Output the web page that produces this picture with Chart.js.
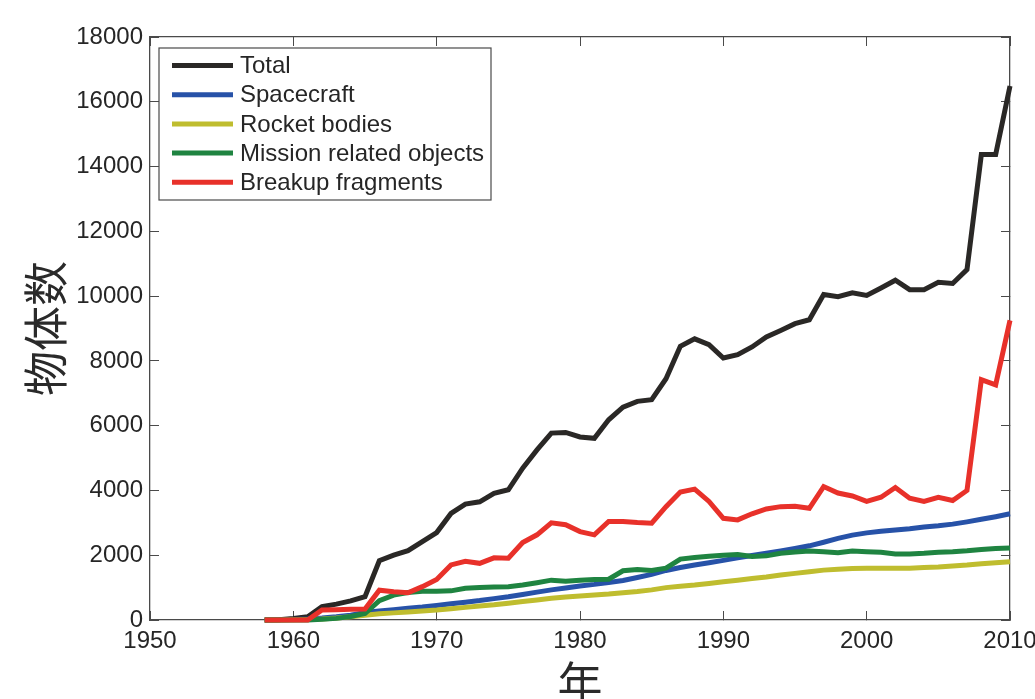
<!DOCTYPE html>
<html>
<head>
<meta charset="utf-8">
<script src="https://cdn.jsdelivr.net/npm/chart.js@4.4.1/dist/chart.umd.min.js"></script>
<style>
  html, body { margin: 0; padding: 0; background: #fff; }
  #wrap { width: 1035px; height: 699px; }
</style>
</head>
<body>
<div id="wrap"><canvas id="chObjects" width="1035" height="699"></canvas></div>
<script>
/* Catalogued orbital objects by type, 1958-2010 */
var YEARS = [1958,1959,1960,1961,1962,1963,1964,1965,1966,1967,
             1968,1969,1970,1971,1972,1973,1974,1975,1976,1977,
             1978,1979,1980,1981,1982,1983,1984,1985,1986,1987,
             1988,1989,1990,1991,1992,1993,1994,1995,1996,1997,
             1998,1999,2000,2001,2002,2003,2004,2005,2006,2007,
             2008,2009,2010];

var TOTAL = [0,10,50,100,410,490,590,720,1830,2000,
             2140,2420,2700,3290,3580,3650,3910,4020,4690,5250,
             5770,5790,5650,5610,6180,6570,6750,6800,7450,8450,
             8680,8500,8090,8190,8430,8740,8940,9150,9270,10050,
             9980,10100,10020,10250,10490,10200,10200,10430,10390,10820,
             14370,14370,16490];

var SPACECRAFT = [0,5,15,30,60,100,150,230,280,320,
                  360,400,450,500,550,600,660,720,790,860,
                  930,990,1050,1100,1160,1220,1310,1410,1530,1620,
                  1700,1770,1840,1920,1990,2060,2130,2210,2290,2400,
                  2520,2620,2690,2740,2780,2820,2870,2910,2960,3030,
                  3110,3190,3280];

var ROCKET_BODIES = [0,0,5,15,30,60,100,150,190,220,
                     250,280,310,350,390,430,470,520,570,620,
                     670,710,740,770,800,840,880,930,1000,1040,
                     1080,1130,1180,1230,1280,1330,1390,1440,1490,1540,
                     1570,1590,1600,1600,1600,1600,1620,1640,1670,1700,
                     1740,1770,1800];

var MISSION_RELATED = [0,0,0,0,20,50,110,200,600,770,
                       850,890,890,900,980,1000,1020,1030,1080,1150,
                       1230,1200,1230,1250,1260,1520,1560,1530,1600,1880,
                       1930,1970,2000,2020,1960,1980,2060,2100,2130,2110,
                       2080,2130,2110,2090,2040,2040,2060,2090,2110,2140,
                       2180,2210,2220];

var BREAKUP = [0,0,0,0,310,320,330,340,920,870,
               840,1030,1250,1700,1810,1750,1920,1910,2390,2630,
               3000,2940,2730,2630,3040,3040,3010,2990,3500,3950,
               4040,3660,3140,3090,3280,3430,3500,3510,3450,4120,
               3920,3830,3660,3790,4090,3760,3660,3790,3690,4000,
               7420,7260,9250];

var X_TICKS = [1950, 1960, 1970, 1980, 1990, 2000, 2010];
var Y_TICKS = [0, 2000, 4000, 6000, 8000, 10000, 12000, 14000, 16000, 18000];

var SERIES = [
  { label: "Total", values: TOTAL, color: "#2a2826" },
  { label: "Spacecraft", values: SPACECRAFT, color: "#2752a8" },
  { label: "Rocket bodies", values: ROCKET_BODIES, color: "#bfbd2f" },
  { label: "Mission related objects", values: MISSION_RELATED, color: "#1f8441" },
  { label: "Breakup fragments", values: BREAKUP, color: "#e8312a" }
];

var AXIS = "#4a4a4a", TXT = "#262626", FONT = "'Liberation Sans', Arial, Helvetica, sans-serif";
var CJK = "'Noto Sans CJK SC', 'Noto Sans CJK JP', sans-serif";

function pts(vals) {
  return vals.map(function (v, i) { return { x: YEARS[i], y: v }; });
}

// boxed legend drawn inside the plot, top-left, like the MATLAB original
var boxedLegend = {
  id: "boxedLegend",
  afterDatasetsDraw: function (chart) {
    var ctx = chart.ctx, ca = chart.chartArea;
    var x0 = ca.left + 9, y0 = ca.top + 11, w = 332, h = 152, row = 29.2;
    ctx.save();
    ctx.fillStyle = "#fff"; ctx.fillRect(x0, y0, w, h);
    ctx.strokeStyle = AXIS; ctx.lineWidth = 1.2; ctx.strokeRect(x0, y0, w, h);
    ctx.font = "24px " + FONT;
    ctx.textBaseline = "middle";
    chart.data.datasets.forEach(function (ds, i) {
      var y = y0 + 17.5 + i * row;
      ctx.strokeStyle = ds.borderColor; ctx.lineWidth = 5;
      ctx.beginPath(); ctx.moveTo(x0 + 13, y); ctx.lineTo(x0 + 74, y); ctx.stroke();
      ctx.fillStyle = TXT;
      ctx.fillText(ds.label, x0 + 81, y + 1);
    });
    ctx.restore();
  }
};

function fixSize(prop, size) {
  return function (s) {
    s[prop] = size;
    s.paddingLeft = 0; s.paddingRight = 0; s.paddingTop = 0; s.paddingBottom = 0;
  };
}

function tickList(list) {
  return function (scale) { scale.ticks = list.map(function (v) { return { value: v }; }); };
}

var inward = { drawOnChartArea: false, drawTicks: true, tickLength: -9, color: AXIS, lineWidth: 1 };

new Chart(document.getElementById("chObjects"), {
  type: "line",
  data: {
    datasets: SERIES.map(function (s, i) {
      return {
        label: s.label, data: pts(s.values),
        borderColor: s.color, backgroundColor: s.color,
        borderWidth: 5, pointRadius: 0, tension: 0, clip: false,
        order: SERIES.length - i
      };
    })
  },
  options: {
    responsive: false, animation: false,
    layout: { padding: { top: 37, right: 25, left: 0, bottom: 0 } },
    plugins: { legend: { display: false }, tooltip: { enabled: false } },
    scales: {
      x: {
        type: "linear", position: "bottom", min: 1950, max: 2010,
        afterBuildTicks: tickList(X_TICKS),
        afterFit: fixSize("height", 79),
        grid: inward,
        border: { color: AXIS, width: 1.3 },
        ticks: { color: TXT, padding: 16, maxRotation: 0, font: { family: FONT, size: 24 },
                 callback: function (v) { return String(v); } },
        title: { display: true, text: "年", color: "#2a2a2a", padding: 0,
                 font: { family: CJK, size: 45, lineHeight: 0.73 } }
      },
      x2: {
        type: "linear", position: "top", min: 1950, max: 2010,
        afterBuildTicks: tickList(X_TICKS),
        afterFit: fixSize("height", 0),
        grid: inward,
        border: { color: AXIS, width: 1.3 },
        ticks: { display: false }
      },
      y: {
        position: "left", min: 0, max: 18000,
        afterBuildTicks: tickList(Y_TICKS),
        afterFit: fixSize("width", 150),
        grid: inward,
        border: { color: AXIS, width: 1.3 },
        ticks: { color: TXT, padding: 16, font: { family: FONT, size: 24 },
                 callback: function (v) { return String(v); } },
        title: { display: true, text: "物体数", color: "#2a2a2a", padding: { top: 29, bottom: 0 },
                 font: { family: CJK, size: 45, lineHeight: 0.73 } }
      },
      y2: {
        position: "right", min: 0, max: 18000,
        afterBuildTicks: tickList(Y_TICKS),
        afterFit: fixSize("width", 0),
        grid: inward,
        border: { color: AXIS, width: 1.3 },
        ticks: { display: false }
      }
    }
  },
  plugins: [boxedLegend]
});
</script>
</body>
</html>
